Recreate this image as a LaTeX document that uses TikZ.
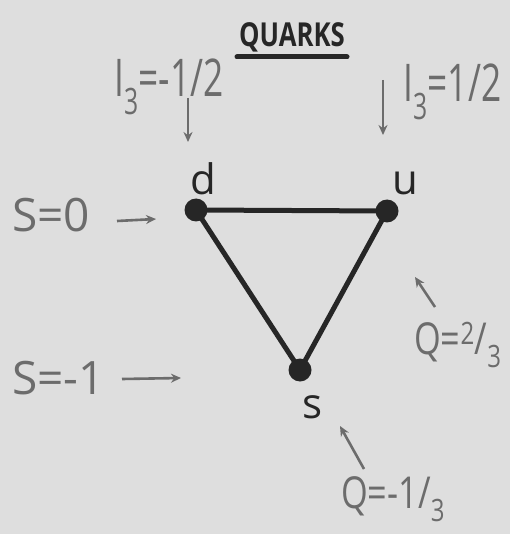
\documentclass[tikz,border=0pt]{standalone}
\usepackage{fontspec}
\setmainfont{Open Sans}
\newfontfamily\handnarrow[FakeStretch=0.68]{Open Sans}
\newfontfamily\handmid[FakeStretch=0.78]{Open Sans}
\usetikzlibrary{arrows.meta}
\definecolor{paper}{HTML}{DEDEDE}
\definecolor{ink}{HTML}{262626}
\definecolor{pencil}{HTML}{6C6C6C}
\begin{document}
\begin{tikzpicture}[x=1pt,y=-1pt,
  lbl/.style={text=pencil, inner sep=0pt, font=\fontsize{46}{48}\selectfont},
  lblnarrow/.style={text=pencil, inner sep=0pt, font=\handnarrow\fontsize{52}{54}\selectfont},
  lblmid/.style={text=pencil, inner sep=0pt, font=\handmid\fontsize{44}{46}\selectfont},
  quark/.style={text=ink, inner sep=0pt, font=\fontsize{42}{44}\selectfont},
  ptr/.style={draw=pencil, line width=2.6pt, -{Stealth[length=10pt,width=9pt]}},
  edgeline/.style={draw=ink, line width=5pt},
  dot/.style={circle, fill=ink, minimum size=23pt, inner sep=0pt}]
\fill[paper] (0,0) rectangle (510,534);
\useasboundingbox (0,0) rectangle (510,534);

% title
\node[text=ink, inner sep=0pt, anchor=base, font=\handmid\fontsize{33}{35}\selectfont\bfseries] (title) at (292,47) {QUARKS};
\coordinate (ulA) at (237,57);
\coordinate (ulB) at (347,57);
\draw[draw=ink, line width=5pt, line cap=round] (ulA) -- (ulB);

% quark dots
\node[dot] (d) at (196,210) {};
\node[dot] (u) at (387,211) {};
\node[dot] (s) at (300,370) {};
\draw[edgeline] (d.center) -- (u.center);
\draw[edgeline] (d.center) -- (s.center);
\draw[edgeline] (u.center) -- (s.center);

% quark names
\node[quark, anchor=base] (dn) at (203,195) {d};
\node[quark, anchor=base] (un) at (405,195) {u};
\node[quark, anchor=base] (sn) at (313,418) {s};

% isospin labels
\node[lblnarrow, anchor=base west] (i3d) at (114,97) {I\textsubscript{3}=-1/2};
\node[lblnarrow, anchor=base west] (i3u) at (403,102) {I\textsubscript{3}=1/2};
\coordinate (a1s) at (188,98);
\coordinate (a1e) at (188,142);
\coordinate (a2s) at (383,80);
\coordinate (a2e) at (383,135);
\draw[ptr] (a1s) -- (a1e);
\draw[ptr] (a2s) -- (a2e);

% strangeness labels
\node[lbl, anchor=base west] (s0) at (12,231) {S=0};
\node[lbl, anchor=base west] (s1) at (12,394) {S=-1};
\coordinate (a3s) at (117,221);
\coordinate (a3e) at (156,219);
\coordinate (a4s) at (122,379);
\coordinate (a4e) at (181,378);
\draw[ptr] (a3s) -- (a3e);
\draw[ptr] (a4s) -- (a4e);

% charge labels
\node[lblmid, anchor=base west] (q1) at (414,354) {Q=\textsuperscript{2}/\textsubscript{3}};
\node[lblmid, anchor=base west] (q2) at (341,508) {Q=-1/\textsubscript{3}};
\coordinate (a5s) at (435,307);
\coordinate (a5e) at (415,277);
\coordinate (a6s) at (364,469);
\coordinate (a6e) at (340,426);
\draw[ptr] (a5s) -- (a5e);
\draw[ptr] (a6s) -- (a6e);
\end{tikzpicture}
\end{document}
